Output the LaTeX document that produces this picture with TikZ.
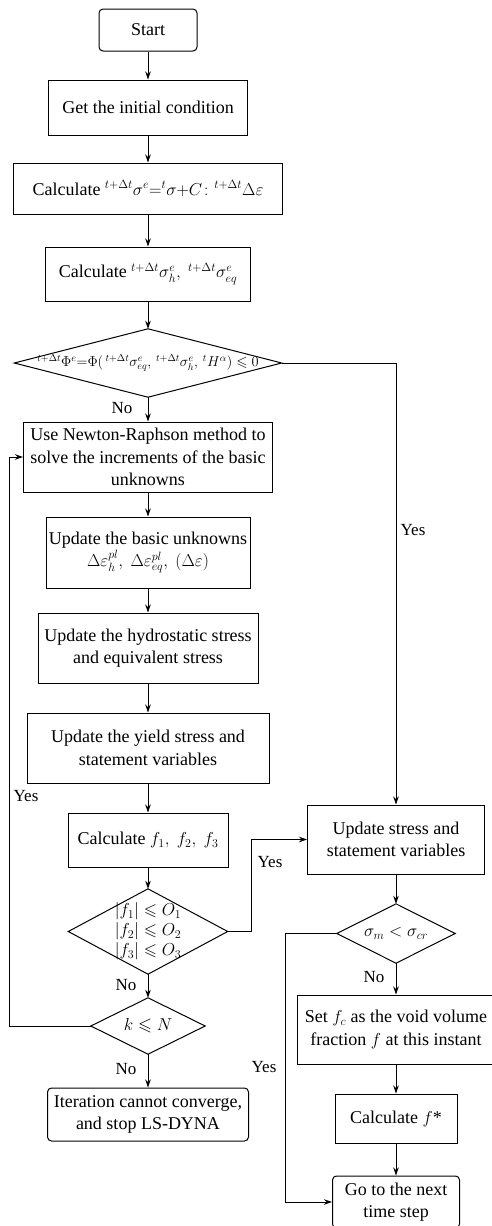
\documentclass[tikz,border=0pt]{standalone}
\usepackage{amsmath,amssymb}
\usepackage{fontspec}
\setmainfont{Liberation Serif}
\usetikzlibrary{arrows.meta}
\begin{document}
\begin{tikzpicture}[x=1pt,y=-1pt,
  every node/.style={font=\fontsize{18}{22.5}\selectfont},
  box/.style={draw, line width=1pt, align=center, inner sep=1pt},
  rbox/.style={box, rounded corners=4pt},
  dia/.style={inner sep=0pt, align=center},
  lbl/.style={font=\fontsize{17}{20}\selectfont, inner sep=0pt},
  conn/.style={line width=1pt, -{Stealth[length=8pt,width=5.5pt]}},
  edge/.style={line width=1pt, line join=miter}]
\useasboundingbox (0,0) rectangle (492,1226);

% main column
\node[rbox, minimum width=98pt, minimum height=42pt] (start) at (148,30) {Start};
\node[box, minimum width=199pt, minimum height=55pt] (init) at (148,107.5) {Get the initial condition};
\node[box, minimum width=269pt, minimum height=51pt] (c1) at (148,188.5) {Calculate $^{t+\Delta t}\sigma^{e}{=}{}^{t}\sigma{+}C\colon{}^{t+\Delta t}\Delta\varepsilon$};
\node[box, minimum width=205pt, minimum height=54pt] (c2) at (148,274) {Calculate $^{t+\Delta t}\sigma^{e}_{h},\ {}^{t+\Delta t}\sigma^{e}_{eq}$};
\node[dia, minimum width=267pt, minimum height=68pt, font=\fontsize{14.5}{17}\selectfont] (d1) at (148,363) {$^{t+\Delta t}\Phi^{e}{=}\Phi(\,{}^{t+\Delta t}\sigma^{e}_{eq},\,{}^{t+\Delta t}\sigma^{e}_{h},\,{}^{t}H^{\alpha})\leqslant 0$};
\draw[edge] (d1.north) -- (d1.east) -- (d1.south) -- (d1.west) -- cycle;
\node[box, minimum width=249pt, minimum height=70pt] (nr) at (148,457) {Use Newton-Raphson method to\\solve the increments of the basic\\unknowns};
\node[box, minimum width=204pt, minimum height=71pt] (u1) at (148,552.5) {Update the basic unknowns\\$\Delta\varepsilon^{pl}_{h},\ \Delta\varepsilon^{pl}_{eq},\ (\Delta\varepsilon)$};
\node[box, minimum width=220pt, minimum height=70pt] (hy) at (148,648) {Update the hydrostatic stress\\and equivalent stress};
\node[box, minimum width=242pt, minimum height=70pt] (ys) at (148,748) {Update the yield stress and\\statement variables};
\node[box, minimum width=160pt, minimum height=54pt] (cf) at (148,840) {Calculate $f_1,\ f_2,\ f_3$};
\node[dia, minimum width=159pt, minimum height=85pt, font=\fontsize{17}{20}\selectfont] (d2) at (148,931.5) {$|f_1|\leqslant O_1$\\$|f_2|\leqslant O_2$\\$|f_3|\leqslant O_3$};
\draw[edge] (d2.north) -- (d2.east) -- (d2.south) -- (d2.west) -- cycle;
\node[dia, minimum width=114pt, minimum height=56pt] (d4) at (148,1026) {$k\leqslant N$};
\draw[edge] (d4.north) -- (d4.east) -- (d4.south) -- (d4.west) -- cycle;
\node[rbox, minimum width=201pt, minimum height=53pt] (it) at (148,1114.5) {Iteration cannot converge,\\and stop LS-DYNA};

% right column
\node[box, minimum width=177pt, minimum height=69pt] (us) at (396,839.5) {Update stress and\\statement variables};
\node[dia, minimum width=118pt, minimum height=59pt] (d3) at (396,933.5) {$\sigma_m<\sigma_{cr}$};
\draw[edge] (d3.north) -- (d3.east) -- (d3.south) -- (d3.west) -- cycle;
\node[box, minimum width=198pt, minimum height=69pt] (sf) at (396,1029.5) {Set $f_c$ as the void volume\\fraction $f$ at this instant};
\node[box, minimum width=122pt, minimum height=49pt] (cs) at (396,1118.5) {Calculate $f$*};
\node[rbox, minimum width=127pt, minimum height=52pt] (go) at (396,1202) {Go to the next\\time step};

% labels
\node[lbl] (l1) at (122,408) {No};
\node[lbl] (l2) at (413,530) {Yes};
\node[lbl] (l3) at (26,796) {Yes};
\node[lbl] (l4) at (270,862) {Yes};
\node[lbl] (l5) at (126,985) {No};
\node[lbl] (l6) at (126,1069) {No};
\node[lbl] (l7) at (264,1067) {Yes};
\node[lbl] (l8) at (374,977) {No};

% coordinates for bends
\coordinate (lp) at (9,1026);
\coordinate (yb) at (251,931.5);
\coordinate (rb) at (285,933.5);

% connectors
\draw[conn] (start) -- (init);
\draw[conn] (init) -- (c1);
\draw[conn] (c1) -- (c2);
\draw[conn] (c2) -- (d1.north);
\draw[conn] (d1.south) -- (nr);
\draw[conn] (nr) -- (u1);
\draw[conn] (u1) -- (hy);
\draw[conn] (hy) -- (ys);
\draw[conn] (ys) -- (cf);
\draw[conn] (cf) -- (d2.north);
\draw[conn] (d2.south) -- (d4.north);
\draw[conn] (d4.south) -- (it);
\draw[conn] (d4.west) -- (lp) |- (nr.west);
\draw[conn] (d1.east) -| (us.north);
\draw[conn] (d2.east) -- (yb) |- (us.west);
\draw[conn] (us) -- (d3.north);
\draw[conn] (d3.south) -- (sf);
\draw[conn] (sf) -- (cs);
\draw[conn] (cs) -- (go);
\draw[conn] (d3.west) -- (rb) |- (go.west);
\end{tikzpicture}
\end{document}
